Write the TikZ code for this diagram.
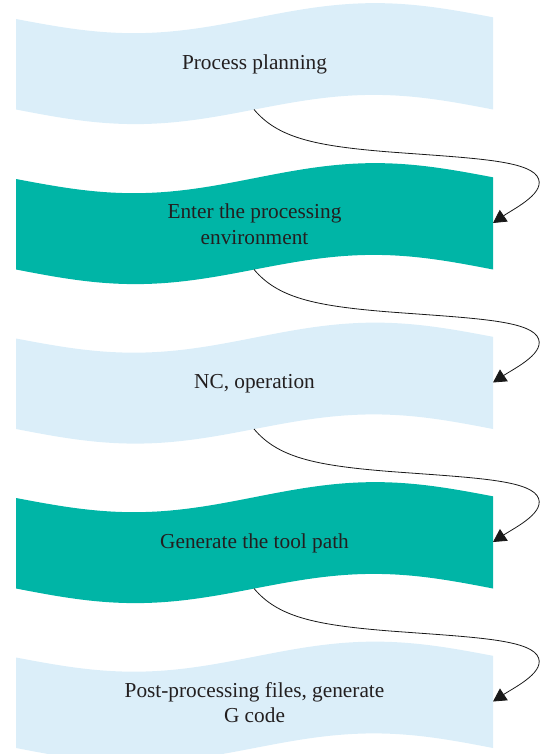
\documentclass[tikz,border=0pt]{standalone}
\usepackage{fontspec}
\setmainfont{Liberation Serif}
\usetikzlibrary{arrows.meta}
\definecolor{lightband}{HTML}{DBEEF9}
\definecolor{tealband}{HTML}{00B5A6}
\definecolor{txtcol}{HTML}{231F20}
\tikzset{
  bandtext/.style={text=txtcol, font=\fontsize{21.3}{25.7}\selectfont, align=center, inner sep=0pt},
  conn/.style={draw=black!90, line width=0.8pt, -{Triangle[length=13pt,width=14pt]}},
}
\newcommand\bandshape[2]{%
  \fill[#2] plot[domain=16:493,samples=90] (\x,{#1+19-0.00356*(\x-16)+14.6*sin(0.754717*(\x-16))})
    -- plot[domain=493:16,samples=90] (\x,{#1+109.5+14.6*sin(0.754717*(\x-16))}) -- cycle;}
\begin{document}
\begin{tikzpicture}[x=1pt,y=-1pt]
\useasboundingbox (0,0) rectangle (544,754);
\clip (0,0) rectangle (544,754);
\bandshape{0}{lightband}
\bandshape{160}{tealband}
\bandshape{319.5}{lightband}
\bandshape{479}{tealband}
\bandshape{638.5}{lightband}
\node[bandtext] (t1) at (254.5,64) {Process planning};
\node[bandtext] (t2) at (254.5,{160+64}) {Enter the processing\\environment};
\node[bandtext] (t3) at (254.5,{319.5+64}) {NC, operation};
\node[bandtext] (t4) at (254.5,{479+64}) {Generate the tool path};
\node[bandtext] (t5) at (254.5,{638.5+64}) {Post-processing files, generate\\G code};
\foreach \k/\o in {1/0,2/160,3/319.5,4/479,5/638.5}{
  \coordinate (o\k) at (254,{\o+109.5});
  \coordinate (i\k) at (493,{\o+63});
}
\foreach \k/\o in {1/0,2/160,3/319.5,4/479}{
  \pgfmathtruncatemacro\nx{\k+1}
  \draw[conn] (o\k) .. controls (278,{\o+138}) and (315,{\o+146}) .. (390,{\o+152})
     .. controls (470,{\o+158}) and (525,{\o+160}) .. (537,{\o+176})
     .. controls (548,{\o+192}) and (515,{\o+208}) .. (i\nx);
}
\end{tikzpicture}
\end{document}
